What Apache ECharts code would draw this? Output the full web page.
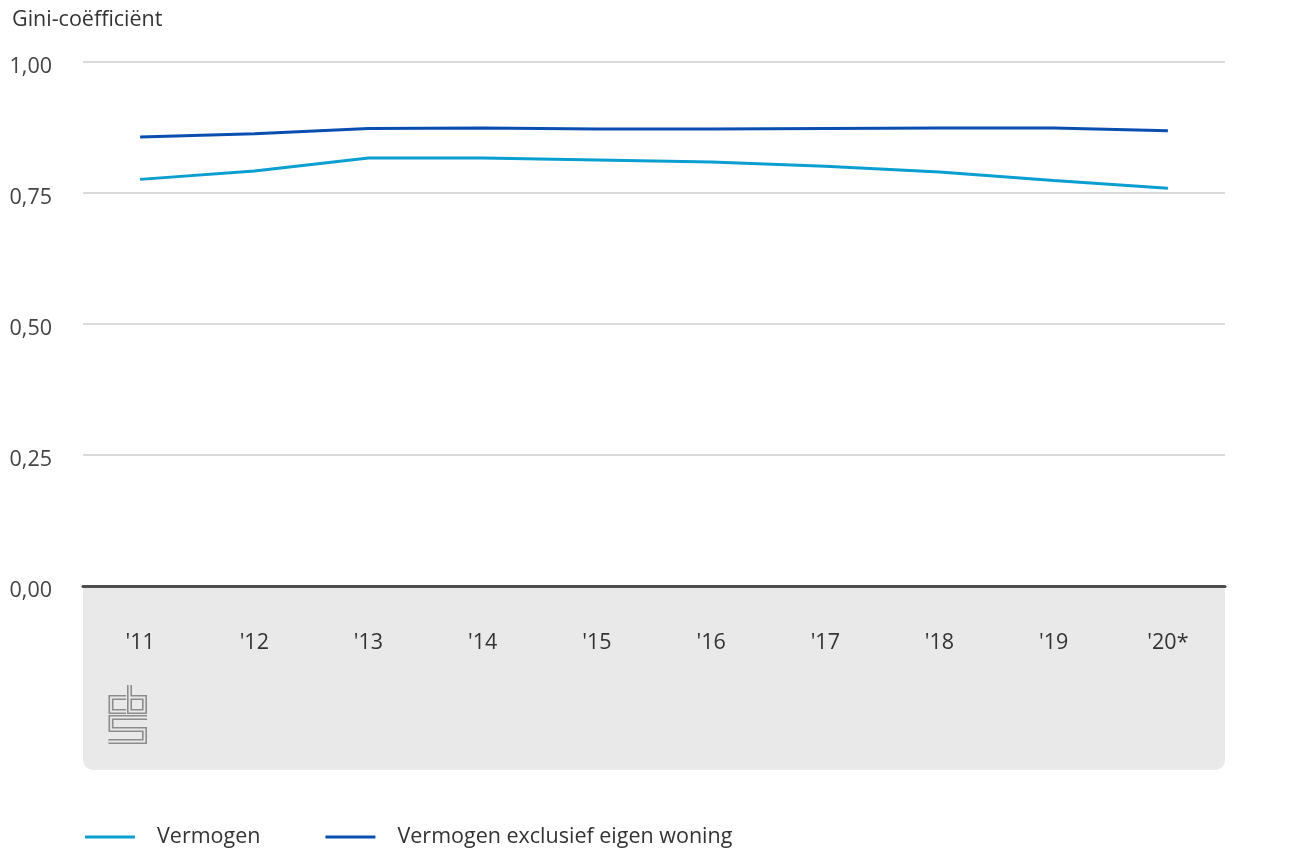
<!DOCTYPE html>
<html>
<head>
<meta charset="utf-8">
<script src="https://cdn.jsdelivr.net/npm/echarts@6/dist/echarts.min.js"></script>
<style>
html,body{margin:0;padding:0;background:#fff;}
#c{width:1299px;height:857px;}
</style>
</head>
<body>
<div id="c"></div>
<script>
const categories = ["'11","'12","'13","'14","'15","'16","'17","'18","'19","'20*"];
const vermogen = [0.776,0.792,0.817,0.817,0.813,0.809,0.801,0.790,0.774,0.759];
const vermogenExcl = [0.857,0.863,0.873,0.874,0.872,0.872,0.873,0.874,0.874,0.869];
const yTicks = [0, 0.25, 0.5, 0.75, 1];
const seriesNames = ['Vermogen','Vermogen exclusief eigen woning'];
const yTitle = 'Gini-coëfficiënt';

const FONT = '"Open Sans", "Noto Sans", sans-serif';
const chart = echarts.init(document.getElementById('c'), null, {renderer:'canvas'});
const logoLines = [
  [[126,697.5],[111,697.5],[111,711.5],[126,711.5]],
  [[129.5,685],[129.5,711.5],[144.5,711.5],[144.5,697.5],[129.5,697.5]],
  [[147,717.5],[111,717.5],[111,729.5],[144.5,729.5],[144.5,741.5],[108.5,741.5]]
];
const logo = [];
logoLines.forEach(p => {
  logo.push({type:'polyline', shape:{points:p}, style:{fill:null, stroke:'#8c8c8c', lineWidth:5, lineJoin:'miter', lineCap:'butt'}, z:-5, silent:true});
});
logoLines.forEach(p => {
  logo.push({type:'polyline', shape:{points:p}, style:{fill:null, stroke:'#e9e9e9', lineWidth:1.8, lineJoin:'miter', lineCap:'butt'}, z:-4, silent:true});
});

chart.setOption({
  backgroundColor:'#ffffff',
  animation:false,
  textStyle:{fontFamily:FONT},
  title:{text:yTitle, left:7, top:4, textStyle:{fontFamily:FONT, fontSize:21.5, fontWeight:'normal', color:'#333'}},
  graphic:[
    {type:'rect', shape:{x:83, y:586, width:1142, height:184, r:[0,0,10,10]}, style:{fill:'#e9e9e9'}, z:-10, silent:true}
  ].concat(logo),
  legend:{
    left:85, top:826, padding:0, icon:'rect', itemWidth:50, itemHeight:3, itemGap:65,
    data:seriesNames,
    textStyle:{fontFamily:FONT, fontSize:21.5, color:'#333', padding:[0,0,0,17]}
  },
  grid:{left:83, right:74, top:62, bottom:271, containLabel:false},
  xAxis:{
    type:'category', data:categories, boundaryGap:true,
    axisLine:{lineStyle:{color:'#4d4d4d', width:3}},
    axisTick:{alignWithLabel:true, length:17, lineStyle:{color:'#bdbdbd', width:1.5}},
    axisLabel:{margin:46, fontSize:21.5, color:'#333', fontFamily:FONT},
    z:5
  },
  yAxis:{
    type:'value', min:0, max:1, interval:0.25,
    axisLine:{show:false}, axisTick:{show:false},
    splitLine:{lineStyle:{color:'#cfcfcf', width:1.5}},
    axisLabel:{margin:31, fontSize:21.5, color:'#444', fontFamily:FONT, verticalAlign:'top', lineHeight:10,
      formatter:v => v.toFixed(2).replace('.',',')}
  },
  series:[
    {name:seriesNames[0], type:'line', data:vermogen, symbol:'none', lineStyle:{color:'#0a9fd0', width:3}, itemStyle:{color:'#0a9fd0'}},
    {name:seriesNames[1], type:'line', data:vermogenExcl, symbol:'none', lineStyle:{color:'#0a4fb0', width:3}, itemStyle:{color:'#0a4fb0'}}
  ]
});
</script>
</body>
</html>
